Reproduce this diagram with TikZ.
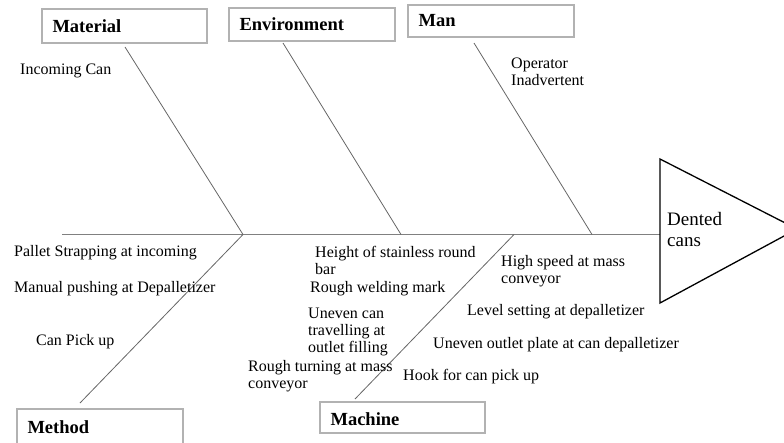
\documentclass[tikz,border=0pt]{standalone}
\usepackage{fontspec}
\setmainfont{Liberation Serif}
\begin{document}
\begin{tikzpicture}[x=1pt,y=-1pt,
  catbox/.style={draw=black!30,line width=1.2pt,fill=white},
  cattext/.style={anchor=west,font=\fontsize{18.5}{20}\selectfont\bfseries},
  bone/.style={draw=black!60,line width=0.8pt},
  spine/.style={draw=black!50,line width=1.6pt},
  cause/.style={anchor=west,align=left,inner sep=0pt,font=\fontsize{16}{17}\selectfont},
  head/.style={draw=black,line width=1.3pt,fill=white}]
\useasboundingbox (0,0) rectangle (784,442);

% category boxes
\draw[catbox] (42,9) rectangle (207,43);
\node[cattext] (mat) at (49,26) {Material};
\draw[catbox] (229,8) rectangle (395,41);
\node[cattext] (env) at (236,24) {Environment};
\draw[catbox] (408,5) rectangle (574,37);
\node[cattext] (man) at (415,21) {Man};
\draw[catbox] (17,409) rectangle (183,446);
\node[cattext] (met) at (24,427) {Method};
\draw[catbox] (320,402) rectangle (485,433);
\node[cattext] (mac) at (327,419) {Machine};

% spine and joints
\coordinate (tail) at (62,234.5);
\coordinate (jA) at (243,234.5);
\coordinate (jB) at (401,234.5);
\coordinate (jC) at (514,234.5);
\coordinate (jD) at (592,234.5);
\coordinate (headL) at (660,234.5);
\draw[spine] (tail) -- (headL);

% bones
\coordinate (bMat) at (125,47);
\coordinate (bEnv) at (283,43);
\coordinate (bMan) at (474,43);
\coordinate (bMet) at (80,403);
\coordinate (bMac) at (355,399);
\draw[bone] (bMat) -- (jA);
\draw[bone] (bEnv) -- (jB);
\draw[bone] (bMan) -- (jD);
\draw[bone] (jA) -- (bMet);
\draw[bone] (jC) -- (bMac);

% fish head
\coordinate (hTop) at (660,159);
\coordinate (hBot) at (660,303);
\coordinate (hTip) at (797,229);
\draw[head] (hTop) -- (hTip) -- (hBot) -- cycle;
\node[cause,font=\fontsize{19}{21}\selectfont] (effect) at (667,229) {Dented\\cans};

% causes
\node[cause] (c1) at (20,71) {Incoming Can};
\node[cause] (c2) at (511,71.5) {Operator\\Inadvertent};
\node[cause] (c3) at (14,253) {Pallet Strapping at incoming};
\node[cause] (c4) at (14,289) {Manual pushing at Depalletizer};
\node[cause] (c5) at (36,342) {Can Pick up};
\node[cause] (c6) at (315,260) {Height of stainless round\\bar};
\node[cause] (c7) at (310,289) {Rough welding mark};
\node[cause] (c8) at (308,331.5) {Uneven can\\travelling at\\outlet filling};
\node[cause] (c9) at (248,376.5) {Rough turning at mass\\conveyor};
\node[cause] (c10) at (501,271) {High speed at mass\\conveyor};
\node[cause] (c11) at (467,312) {Level setting at depalletizer};
\node[cause] (c12) at (433,345) {Uneven outlet plate at can depalletizer};
\node[cause] (c13) at (403,377) {Hook for can pick up};
\end{tikzpicture}
\end{document}
